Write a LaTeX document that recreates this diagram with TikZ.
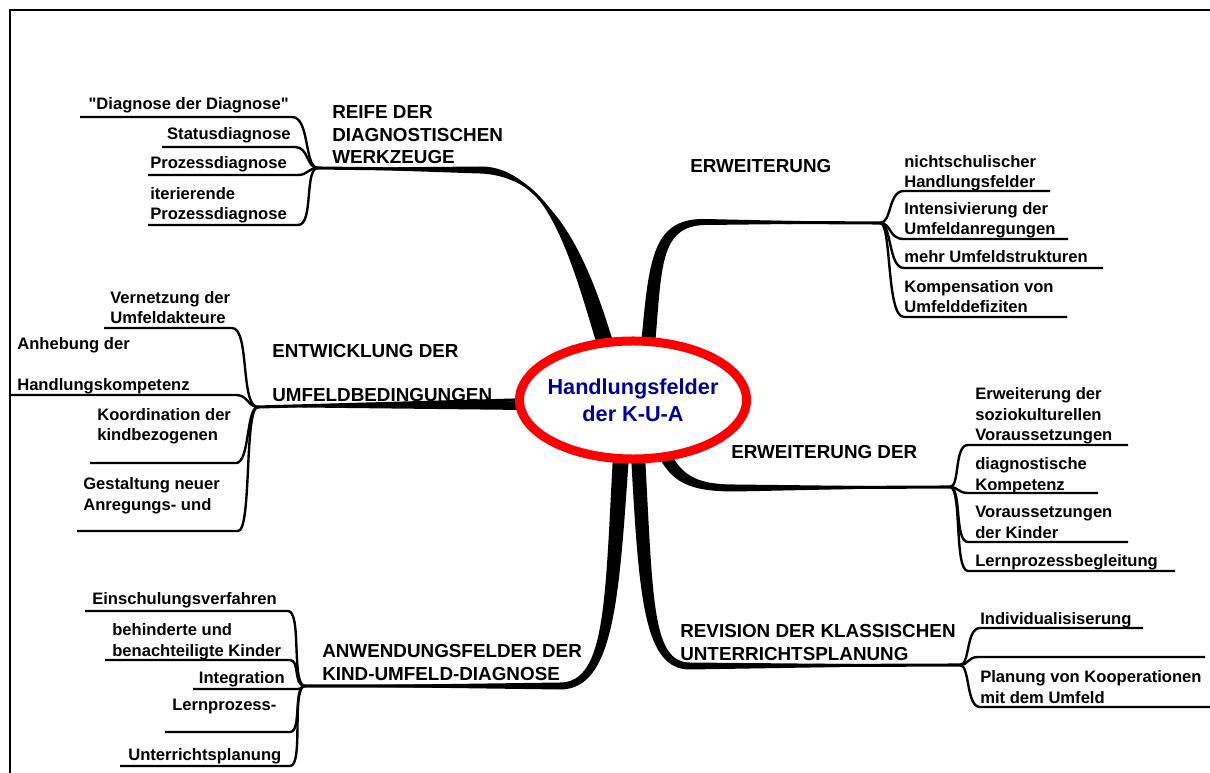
\documentclass[tikz,border=0pt]{standalone}
\usepackage{fontspec}
\setmainfont{Liberation Sans}
\newfontfamily\plainsans{Liberation Sans}
\usetikzlibrary{shapes.geometric, backgrounds}
\definecolor{kuablue}{RGB}{0,0,160}

\begin{document}
\begin{tikzpicture}[x=0.025cm, y=-0.025cm,
    kua/.style={ellipse, draw=red, line width=6.4pt, fill=white, minimum width=5.675cm, minimum height=2.95cm,
                inner sep=-4.1pt, align=center, text=kuablue, font=\fontsize{15.4}{19.2}\selectfont\bfseries},
    topic/.style={align=left, inner sep=0pt, font=\fontsize{13.4}{16}\selectfont\bfseries},
    sub/.style={align=left, inner sep=0pt, font=\fontsize{11.8}{14.9}\selectfont\bfseries},
    bough/.style={line width=2.2pt, line cap=round},
    twig/.style={line width=1.7pt, line join=round}
  ]
  \useasboundingbox (0,0) rectangle (1210,773);
  \draw[line width=1.4pt] (10,773) -- (10,10) -- (1210,10);

  \node[kua] (kua) at (633,400) {Handlungsfelder\\der K-U-A};

  % hubs
  \coordinate (reife) at (318,168);
  \coordinate (erw)   at (880,223);
  \coordinate (entw)  at (258,407);
  \coordinate (erwd)  at (950,487);
  \coordinate (anw)   at (305,686);
  \coordinate (rev)   at (960,665);

  % main branches
  \begin{scope}[on background layer]
    \fill (597,345) .. controls (572,262) and (547,166) .. (480,166.5) -- (reife)
          -- (480,173.5) .. controls (553,176) and (588,258) .. (614,345) -- cycle;
    \draw[bough] (kua.116) .. controls (580,260) and (550,171) .. (480,170) -- (reife);

    \fill (641,345) .. controls (649,262) and (651,218) .. (705,219) -- (erw)
          -- (705,225) .. controls (659,226) and (662,268) .. (655,345) -- cycle;
    \draw[bough] (kua.75) .. controls (656,265) and (655,222) .. (705,222) -- (erw);

    \fill (525,401) -- (entw) -- (525,410) -- cycle;
    \draw[bough] (kua.west) -- (entw);

    \fill (657,453) .. controls (671,482) and (688,491.5) .. (735,491.5) -- (erwd)
          -- (735,484.5) .. controls (693,484.5) and (681,474) .. (667,447) -- cycle;
    \draw[bough] (kua.300) .. controls (676,478) and (690,488) .. (735,488) -- (erwd);

    \fill (613,455) .. controls (605,600) and (606,682.5) .. (560,682.5) -- (anw)
          -- (560,689.5) .. controls (614,689.5) and (619,600) .. (629,455) -- cycle;
    \draw[bough] (kua.259) .. controls (612,600) and (610,686) .. (560,686) -- (anw);

    \fill (631,455) .. controls (639,600) and (644,669.5) .. (690,669.5) -- (rev)
          -- (690,662.5) .. controls (652,662.5) and (653,600) .. (645,455) -- cycle;
    \draw[bough] (kua.275) .. controls (646,600) and (648,666) .. (690,666) -- (rev);
  \end{scope}

  % topic labels (base = last line)
  \node[topic, anchor=base west] (treife) at (332,164) {REIFE DER\\DIAGNOSTISCHEN\\WERKZEUGE};
  \node[topic, anchor=base west] (terw)   at (690,173) {ERWEITERUNG};
  \node[topic, anchor=base west] (tentw)  at (272,402) {ENTWICKLUNG DER\\[16pt]UMFELDBEDINGUNGEN};
  \node[topic, anchor=base west] (terwd)  at (731,458) {ERWEITERUNG DER};
  \node[topic, anchor=base west] (tanw)   at (322,680) {ANWENDUNGSFELDER DER\\KIND-UMFELD-DIAGNOSE};
  \node[topic, anchor=base west] (trev)   at (680,660) {REVISION DER KLASSISCHEN\\UNTERRICHTSPLANUNG};

  % reife der diagnostischen werkzeuge
  \coordinate (r1) at (80,117);
  \coordinate (r2) at (162,147);
  \coordinate (r3) at (148,175);
  \coordinate (r4) at (148,225);
  \draw[twig] (r1) -- ++(212,0) .. controls +(18,0) and +(-14,0) .. (reife);
  \draw[twig] (r2) -- ++(133,0) .. controls +(14,0) and +(-12,0) .. (reife);
  \draw[twig] (r3) -- ++(150,0) .. controls +(10,0) and +(-10,0) .. (reife);
  \draw[twig] (r4) -- ++(150,0) .. controls +(16,0) and +(-14,0) .. (reife);
  \node[sub, anchor=base east] (sr1) at (289,110) {{\plainsans"}Diagnose der Diagnose{\plainsans"}};
  \node[sub, anchor=base east] (sr2) at (291,140) {Statusdiagnose};
  \node[sub, anchor=base west] (sr3) at (150,169) {Prozessdiagnose};
  \node[sub, anchor=base west] (sr4) at (150,220) {iterierende\\Prozessdiagnose};

  % erweiterung
  \coordinate (e1) at (904,191);
  \coordinate (e2) at (904,239);
  \coordinate (e3) at (904,268);
  \coordinate (e4) at (904,317);
  \draw[twig] (erw) .. controls +(12,0) and +(-16,0) .. (e1) -- ++(146,0);
  \draw[twig] (erw) .. controls +(12,0) and +(-16,0) .. (e2) -- ++(164,0);
  \draw[twig] (erw) .. controls +(12,0) and +(-16,0) .. (e3) -- ++(199,0);
  \draw[twig] (erw) .. controls +(12,0) and +(-18,0) .. (e4) -- ++(163,0);
  \node[sub, anchor=base west] (se1) at (904,188) {nichtschulischer\\Handlungsfelder};
  \node[sub, anchor=base west] (se2) at (904,235) {Intensivierung der\\Umfeldanregungen};
  \node[sub, anchor=base west] (se3) at (904,263) {mehr Umfeldstrukturen};
  \node[sub, anchor=base west] (se4) at (904,313) {Kompensation von\\Umfelddefiziten};

  % entwicklung der umfeldbedingungen
  \coordinate (n1) at (104,328);
  \coordinate (n2) at (10,395);
  \coordinate (n3) at (90,463);
  \coordinate (n4) at (77,531);
  \draw[twig] (n1) -- ++(128,0) .. controls +(18,0) and +(-18,0) .. (entw);
  \draw[twig] (n2) -- ++(226,0) .. controls +(12,0) and +(-10,0) .. (entw);
  \draw[twig] (n3) -- ++(146,0) .. controls +(14,0) and +(-12,0) .. (entw);
  \draw[twig] (n4) -- ++(161,0) .. controls +(14,0) and +(-14,0) .. (entw);
  \node[sub, anchor=base west] (sn1) at (110,324) {Vernetzung der\\Umfeldakteure};
  \node[sub, anchor=base west] (sn2) at (17,391) {Anhebung der\\[14.9pt]Handlungskompetenz};
  \node[sub, anchor=base west] (sn3) at (97,441) {Koordination der\\kindbezogenen};
  \node[sub, anchor=base west] (sn4) at (83,510) {Gestaltung neuer\\Anregungs- und};

  % erweiterung der
  \coordinate (d1) at (968,445);
  \coordinate (d2) at (968,493);
  \coordinate (d3) at (968,542);
  \coordinate (d4) at (968,571);
  \draw[twig] (erwd) .. controls +(10,0) and +(-14,0) .. (d1) -- ++(160,0);
  \draw[twig] (erwd) .. controls +(8,0) and +(-10,0) .. (d2) -- ++(130,0);
  \draw[twig] (erwd) .. controls +(12,0) and +(-14,0) .. (d3) -- ++(160,0);
  \draw[twig] (erwd) .. controls +(12,0) and +(-14,0) .. (d4) -- ++(207,0);
  \node[sub, anchor=base west] (sd1) at (975,441) {Erweiterung der\\soziokulturellen\\Voraussetzungen};
  \node[sub, anchor=base west] (sd2) at (975,490) {diagnostische\\Kompetenz};
  \node[sub, anchor=base west] (sd3) at (975,538) {Voraussetzungen\\der Kinder};
  \node[sub, anchor=base west] (sd4) at (975,566) {Lernprozessbegleitung};

  % anwendungsfelder
  \coordinate (a1) at (85,611);
  \coordinate (a2) at (105,660);
  \coordinate (a3) at (193,689);
  \coordinate (a4) at (165,732);
  \coordinate (a5) at (120,766);
  \draw[twig] (a1) -- ++(203,0) .. controls +(14,0) and +(-14,0) .. (anw);
  \draw[twig] (a2) -- ++(185,0) .. controls +(10,0) and +(-12,0) .. (anw);
  \draw[twig] (a3) -- ++(105,0) .. controls +(4,0) and +(-4,0) .. (anw);
  \draw[twig] (a4) -- ++(125,0) .. controls +(12,0) and +(-12,0) .. (anw);
  \draw[twig] (a5) -- ++(170,0) .. controls +(14,0) and +(-14,0) .. (anw);
  \node[sub, anchor=base east] (sa1) at (277,604) {Einschulungsverfahren};
  \node[sub, anchor=base west] (sa2) at (112,656) {behinderte und\\benachteiligte Kinder};
  \node[sub, anchor=base east] (sa3) at (285,683) {Integration};
  \node[sub, anchor=base west] (sa4) at (172,710) {Lernprozess-};
  \node[sub, anchor=base west] (sa5) at (128,760) {Unterrichtsplanung};

  % revision
  \coordinate (v1) at (980,628);
  \coordinate (v2) at (978,657);
  \coordinate (v3) at (980,707);
  \draw[twig] (rev) .. controls +(10,0) and +(-14,0) .. (v1) -- ++(163,0);
  \draw[twig] (rev) .. controls +(8,0) and +(-10,0) .. (v2) -- ++(227,0);
  \draw[twig] (rev) .. controls +(10,0) and +(-14,0) .. (v3) -- ++(230,0);
  \node[sub, anchor=base west] (sv1) at (980,624) {Individualisiserung};
  \node[sub, anchor=base west] (sv3) at (980,703) {Planung von Kooperationen\\mit dem Umfeld};
\end{tikzpicture}
\end{document}
